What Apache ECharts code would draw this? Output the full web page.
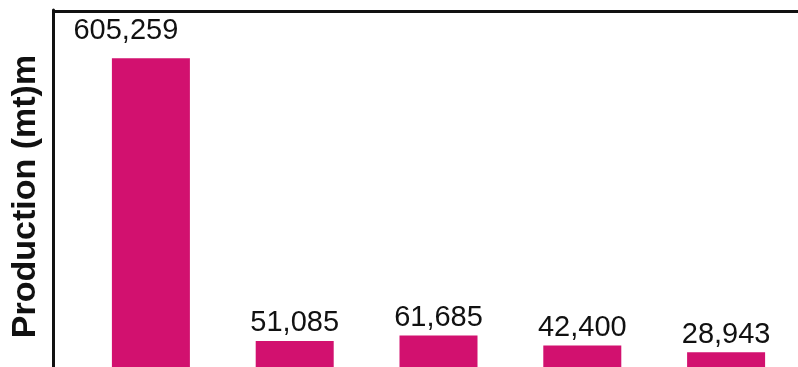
<!DOCTYPE html>
<html>
<head>
<meta charset="utf-8">
<script src="https://cdn.jsdelivr.net/npm/echarts@6/dist/echarts.min.js"></script>
<style>
  html, body { margin: 0; padding: 0; background: #fff; }
  #chart { width: 798px; height: 367px; }
</style>
</head>
<body>
<div id="chart"></div>
<script>
// Production per producer (mt)
const categories = ['A', 'B', 'C', 'D', 'E'];
const production = [605259, 51085, 61685, 42400, 28943];
const axisTitle = 'Production (mt)m';

const barColor = '#d2116f';

const seriesData = production.map((v, i) => {
  const item = { value: v };
  if (i === 0) {
    item.label = { offset: [-25, -10] };
  }
  return item;
});

const chart = echarts.init(document.getElementById('chart'), null, { renderer: 'canvas' });
chart.setOption({
  animation: false,
  backgroundColor: '#fff',
  grid: { left: 79, right: -15, top: 10, bottom: -5, containLabel: false },
  xAxis: {
    type: 'category',
    data: categories,
    axisLine: { show: false },
    axisTick: { show: false },
    axisLabel: { show: false }
  },
  yAxis: {
    type: 'value',
    min: 0,
    max: 700000,
    offset: 26,
    name: axisTitle,
    nameLocation: 'middle',
    nameGap: 10,
    nameTextStyle: {
      fontFamily: 'Liberation Sans, Arial, sans-serif',
      fontWeight: 'bold',
      fontSize: 34,
      color: '#111',
      padding: [0, 16, 0, 0]
    },
    axisLine: { show: true, lineStyle: { color: '#111', width: 3 } },
    axisTick: { show: false },
    axisLabel: { show: false },
    splitLine: { show: false }
  },
  graphic: [{
    type: 'line',
    shape: { x1: 52, y1: 11.5, x2: 798, y2: 11.5 },
    style: { stroke: '#111', lineWidth: 3 }
  }],
  series: [{
    type: 'bar',
    data: seriesData,
    barWidth: 78,
    itemStyle: { color: barColor },
    label: {
      show: true,
      position: 'top',
      distance: 3,
      fontFamily: 'Liberation Sans, Arial, sans-serif',
      fontSize: 29,
      color: '#111',
      formatter: p => p.value.toLocaleString('en-US')
    }
  }]
});
</script>
</body>
</html>
